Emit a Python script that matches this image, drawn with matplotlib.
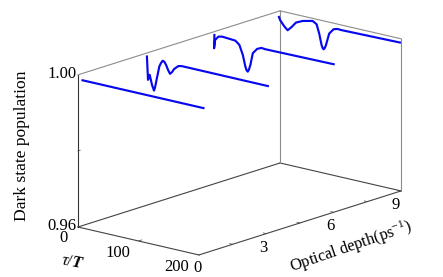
import matplotlib
matplotlib.use("Agg")
import matplotlib.pyplot as plt
from mpl_toolkits.mplot3d import proj3d

plt.rcParams['font.family'] = ['Liberation Serif', 'DejaVu Serif']
plt.rcParams['mathtext.fontset'] = 'custom'
plt.rcParams['mathtext.rm'] = 'Liberation Serif'
plt.rcParams['mathtext.it'] = 'Liberation Serif:italic'
plt.rcParams['mathtext.bf'] = 'Liberation Serif:italic:bold'

# data
depth_1 = 0.2
tau_1 = [0, 200]
pop_1 = [0.99820, 0.99823]

depth_2 = 3.07
tau_2 = [0, 1.8, 4.6, 8.4, 11.7, 13.5, 15.9, 20.5, 23.3, 26.1, 28.8, 31.6, 34.9, 38.2, 41.5, 44.8, 51.9, 57.5, 200]
pop_2 = [0.99908, 0.99302, 0.99443, 0.99193, 0.99055, 0.99150, 0.99351, 0.99721, 0.99824, 0.99892,
         0.99875, 0.99805, 0.99685, 0.99593, 0.99650, 0.99741, 0.99847, 0.99867, 0.99866]

depth_3 = 6.0
tau_3 = [2.8, 2.3, 4, 9.4, 15.5, 25.5, 37.5, 44.1, 49.8, 54, 56, 58, 60, 62.3, 66.3, 73.4, 80.5, 87, 200]
pop_3 = [0.99937, 0.99585, 0.99810, 0.99917, 0.99940, 0.99929, 0.99915, 0.99827, 0.99585,
         0.99293, 0.99205, 0.99175, 0.99240, 0.99366, 0.99690, 0.99829, 0.99882, 0.99871, 0.99892]

depth_4 = 8.95
tau_4 = [0, 2.1, 8.8, 14.4, 21, 28.1, 39.2, 55.7, 62.3, 66.6, 70.6, 72.3, 73.9, 75.8, 77.7, 83.1, 90.4, 97, 102.5, 200]
pop_4 = [0.99848, 0.99769, 0.99635, 0.99551, 0.99661, 0.99803, 0.99887, 0.99948, 0.99885,
         0.99656, 0.99364, 0.99295, 0.99269, 0.99310, 0.99390, 0.99716, 0.99858, 0.99889, 0.99882, 0.99911]

tau_ticks = [0, 100, 200]
depth_ticks = [0, 3, 6, 9]
pop_ticks = [0.96, 1.00]
pop_tick_labels = ['0.96', '1.00']

W, H = 443, 277
fig = plt.figure(figsize=(W / 100, H / 100), dpi=100, facecolor='white')
S = 600.0
ax = fig.add_axes([0, 0, S / W, S / H], projection='3d', facecolor='none')
ax.set_proj_type('ortho')
ax.view_init(elev=15.7, azim=-49.5)
ax.set_box_aspect((159, 311, 158))
ax.set_axis_off()
ax.computed_zorder = False

blue = '#0808f0'
for d, t, p in [(depth_1, tau_1, pop_1), (depth_2, tau_2, pop_2),
                (depth_3, tau_3, pop_3), (depth_4, tau_4, pop_4)]:
    ax.plot(t, [d] * len(t), p, color=blue, lw=1.55, zorder=5, solid_joinstyle='round')

x0, x1 = 0, 200
y0, y1 = 0, 9
z0, z1 = 0.96, 1.00
dark, gray = '#444444', '#8c8c8c'
box = [((x0, y0, z0), (x1, y0, z0), dark), ((x1, y0, z0), (x1, y1, z0), dark),
       ((x1, y1, z0), (x0, y1, z0), dark), ((x0, y1, z0), (x0, y0, z0), dark),
       ((x0, y0, z0), (x0, y0, z1), '#333333'), ((x0, y1, z0), (x0, y1, z1), gray),
       ((x1, y1, z0), (x1, y1, z1), gray), ((x0, y0, z1), (x0, y1, z1), gray),
       ((x0, y1, z1), (x1, y1, z1), gray)]
for a, b, c in box:
    ax.plot([a[0], b[0]], [a[1], b[1]], [a[2], b[2]], color=c, lw=0.8, zorder=1)

# small tick marks along the axes
for d in [1.5, 3, 4.5, 6, 7.5, 9]:
    ax.plot([x1, x1 - 5], [d, d], [z0, z0], color=dark, lw=0.5, zorder=1)
ax.plot([100, 100], [y0, 0.15], [z0, z0], color=dark, lw=0.5, zorder=1)
ax.plot([x0, x0], [y0, 0.1], [0.98, 0.98], color=dark, lw=0.5, zorder=1)

ax.set_xlim(x0, x1)
ax.set_ylim(y0, y1)
ax.set_zlim(z0, z1)


def to_px(x, y, z):
    vx, vy, _ = proj3d.proj_transform(x, y, z, ax.get_proj())
    return ax.transData.transform((vx, vy))


# place the cube so that two corners land on the reference's pixels
target_a = (78.0, H - 227.0)
target_c = (401.0, H - 191.0)
left, bottom = 0.0, 0.0
for _ in range(4):
    ax.set_position([left / W, bottom / H, S / W, S / H])
    ax.apply_aspect()
    a = to_px(x0, y0, z0)
    c = to_px(x1, y1, z0)
    S *= (target_c[0] - target_a[0]) / (c[0] - a[0])
    ax.set_position([left / W, bottom / H, S / W, S / H])
    ax.apply_aspect()
    a = to_px(x0, y0, z0)
    left += target_a[0] - a[0]
    bottom += target_a[1] - a[1]
ax.set_position([left / W, bottom / H, S / W, S / H])


def label(px, py, s, **kw):
    fig.text(px / W, 1 - py / H, s, ha=kw.pop('ha', 'center'), va=kw.pop('va', 'center'), **kw)


fs = 12
label(77, 74, pop_tick_labels[1], ha='right', fontsize=fs)
label(77, 225.5, pop_tick_labels[0], ha='right', fontsize=fs)
for v, (px, py) in zip(tau_ticks, [(64, 238.5), (118, 253), (177, 267)]):
    label(px, py, str(v), fontsize=fs)
for v, (px, py) in zip(depth_ticks, [(198, 268.5), (263, 247.5), (330, 226.5), (396, 205)]):
    label(px, py, str(v), fontsize=fs)
label(22, 146, 'Dark state population', rotation=90, fontsize=12.6)
label(73, 262, r'$\mathit{\tau}$/$\mathbf{T}$', rotation=-11, fontsize=12)
label(351, 247, 'Optical depth(ps$^{-1}$)', rotation=19, fontsize=11.8)

fig.savefig('out.png', dpi=100, facecolor='white')
